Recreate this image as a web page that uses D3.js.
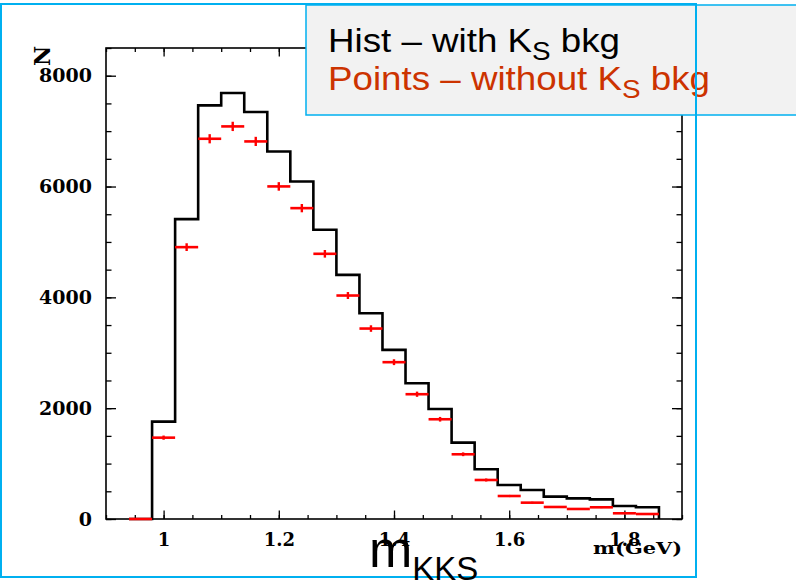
<!DOCTYPE html>
<html>
<head>
<meta charset="utf-8">
<script src="https://cdn.jsdelivr.net/npm/d3@7"></script>
<style>
body { margin: 0; background: #fff; }
</style>
</head>
<body>
<svg width="796" height="580"></svg>
<script>
// bin centres in GeV, every bin is 0.04 wide
var binWidth = 0.04;
var binCenters = [0.96, 1.00, 1.04, 1.08, 1.12, 1.16, 1.20, 1.24, 1.28, 1.32, 1.36, 1.40,
                  1.44, 1.48, 1.52, 1.56, 1.60, 1.64, 1.68, 1.72, 1.76, 1.80, 1.84];
// histogram - with Ks background
var histCounts = [0, 1757, 5412, 7464, 7687, 7344, 6633, 6092, 5219, 4406, 3714, 3052,
                  2450, 1986, 1378, 897, 614, 524, 403, 373, 355, 235, 211];
// points - without Ks background
var pointCounts = [0, 1468, 4906, 6862, 7085, 6814, 6002, 5610, 4786, 4033, 3437, 2830,
                   2252, 1800, 1168, 704, 415, 295, 217, 181, 211, 103, 90];
var pointErrors = [0, 38, 70, 83, 84, 83, 77, 75, 69, 63, 59, 53,
                   47, 42, 34, 27, 20, 17, 15, 13, 15, 10, 10];

var yTickValues = [0, 2000, 4000, 6000, 8000];
var xTickValues = [1, 1.2, 1.4, 1.6, 1.8];
var xTickLabels = ["1", "1.2", "1.4", "1.6", "1.8"];

var blue = "#00b0f0";

var svg = d3.select("svg"),
    pL = 106, pR = 682, pT = 48, pB = 519;

var x = d3.scaleLinear().domain([0.9, 1.9]).range([pL, pR]);
var y = d3.scaleLinear().domain([0, 8500]).range([pB, pT]);

var plot = svg.append("g");

plot.append("rect")
    .attr("x", pL).attr("y", pT)
    .attr("width", pR - pL).attr("height", pB - pT)
    .attr("fill", "none").attr("stroke", "#000").attr("stroke-width", 1.6);

function styleAxis(g) {
    g.select(".domain").remove();
    g.selectAll(".tick line").attr("stroke", "#000").attr("stroke-width", 1.3);
    g.selectAll("text")
        .attr("font-family", "'DejaVu Serif', serif")
        .attr("font-weight", "bold")
        .attr("fill", "#000");
}

var yMinor = d3.range(0, 8501, 500);
var xMinor = d3.range(0.9, 1.9001, 0.05);

// left axis
plot.append("g").attr("transform", "translate(" + pL + ",0)")
    .call(d3.axisLeft(y).tickValues(yMinor).tickSize(-5.5).tickFormat(""))
    .call(styleAxis);
plot.append("g").attr("transform", "translate(" + pL + ",0)")
    .call(d3.axisLeft(y).tickValues(yTickValues).tickSize(-10).tickPadding(14)
        .tickFormat(d3.format("d")))
    .call(styleAxis)
    .selectAll("text").attr("font-size", 19);

// right axis
plot.append("g").attr("transform", "translate(" + pR + ",0)")
    .call(d3.axisRight(y).tickValues(yMinor).tickSize(-5.5).tickFormat(""))
    .call(styleAxis);
plot.append("g").attr("transform", "translate(" + pR + ",0)")
    .call(d3.axisRight(y).tickValues(yTickValues).tickSize(-10).tickFormat(""))
    .call(styleAxis);

// top axis
plot.append("g").attr("transform", "translate(0," + pT + ")")
    .call(d3.axisTop(x).tickValues(xMinor).tickSize(-4).tickFormat(""))
    .call(styleAxis);
plot.append("g").attr("transform", "translate(0," + pT + ")")
    .call(d3.axisTop(x).tickValues(xTickValues).tickSize(-8.5).tickFormat(""))
    .call(styleAxis);

// bottom axis
plot.append("g").attr("transform", "translate(0," + pB + ")")
    .call(d3.axisBottom(x).tickValues(xMinor).tickSize(-4).tickFormat(""))
    .call(styleAxis);
plot.append("g").attr("transform", "translate(0," + pB + ")")
    .call(d3.axisBottom(x).tickValues(xTickValues).tickSize(-8.5).tickPadding(14)
        .tickFormat(function(d, i) { return xTickLabels[i]; }))
    .call(styleAxis)
    .selectAll("text").attr("font-size", 18);

// HISTOGRAM
var histPts = binCenters.map(function(c, i) { return [c - binWidth / 2, histCounts[i]]; });
histPts.push([binCenters[binCenters.length - 1] + binWidth / 2, 0]);

var line = d3.line()
    .x(function(d) { return x(d[0]); })
    .y(function(d) { return y(d[1]); })
    .curve(d3.curveStepAfter);

plot.append("path")
    .datum(histPts)
    .attr("d", line)
    .attr("fill", "none")
    .attr("stroke", "#000")
    .attr("stroke-width", 2.6);

// POINTS
var pts = plot.append("g").selectAll("g")
    .data(binCenters)
    .enter().append("g");

pts.append("line")
    .attr("x1", function(d) { return x(d - binWidth / 2); })
    .attr("x2", function(d) { return x(d + binWidth / 2); })
    .attr("y1", function(d, i) { return y(pointCounts[i]); })
    .attr("y2", function(d, i) { return y(pointCounts[i]); })
    .attr("stroke", "#ff0000")
    .attr("stroke-width", 2.6);

pts.filter(function(d, i) { return pointErrors[i] > 0; })
    .append("line")
    .attr("x1", function(d) { return x(d); })
    .attr("x2", function(d) { return x(d); })
    .attr("y1", function(d) { var i = binCenters.indexOf(d); return y(pointCounts[i] - pointErrors[i]); })
    .attr("y2", function(d) { var i = binCenters.indexOf(d); return y(pointCounts[i] + pointErrors[i]); })
    .attr("stroke", "#ff0000")
    .attr("stroke-width", 2.4);

// axis titles
svg.append("text")
    .attr("transform", "translate(42,56) rotate(-90)")
    .attr("text-anchor", "middle")
    .attr("dominant-baseline", "central")
    .attr("font-family", "'DejaVu Serif', serif")
    .attr("font-weight", "bold")
    .attr("font-size", 22)
    .text("N");

svg.append("text")
    .attr("x", 593).attr("y", 554)
    .attr("textLength", 89)
    .attr("lengthAdjust", "spacingAndGlyphs")
    .attr("font-family", "'DejaVu Serif', serif")
    .attr("font-weight", "bold")
    .attr("font-size", 17)
    .text("m(GeV)");

// LEGEND
svg.append("rect")
    .attr("x", 306).attr("y", 5)
    .attr("width", 520).attr("height", 110)
    .attr("fill", "#f2f2f2")
    .attr("stroke", blue)
    .attr("stroke-width", 1.5);

var legendRows = [
    { pre: "Hist \u2013 with K", color: "#000", y: 52, w: 292 },
    { pre: "Points \u2013 without K", color: "#cc3300", y: 90, w: 382 }
];

legendRows.forEach(function(r) {
    var t = svg.append("text")
        .attr("x", 328).attr("y", r.y)
        .attr("textLength", r.w)
        .attr("lengthAdjust", "spacingAndGlyphs")
        .attr("font-family", "'Liberation Sans', Arial, sans-serif")
        .attr("font-size", 33)
        .attr("fill", r.color);
    t.append("tspan").text(r.pre);
    t.append("tspan").attr("font-size", 25).attr("dy", 8).text("S");
    t.append("tspan").attr("dy", -8).text(" bkg");
});

// outer frame
svg.append("rect")
    .attr("x", 1).attr("y", 4)
    .attr("width", 695).attr("height", 573)
    .attr("fill", "none")
    .attr("stroke", blue)
    .attr("stroke-width", 2);

// big mass label
var m = svg.append("text")
    .attr("x", 369).attr("y", 567)
    .attr("font-family", "'Liberation Sans', Arial, sans-serif")
    .attr("font-size", 52)
    .attr("fill", "#000");
m.append("tspan").text("m");
m.append("tspan").attr("font-size", 33).attr("dy", 13).text("KKS");
</script>
</body>
</html>
